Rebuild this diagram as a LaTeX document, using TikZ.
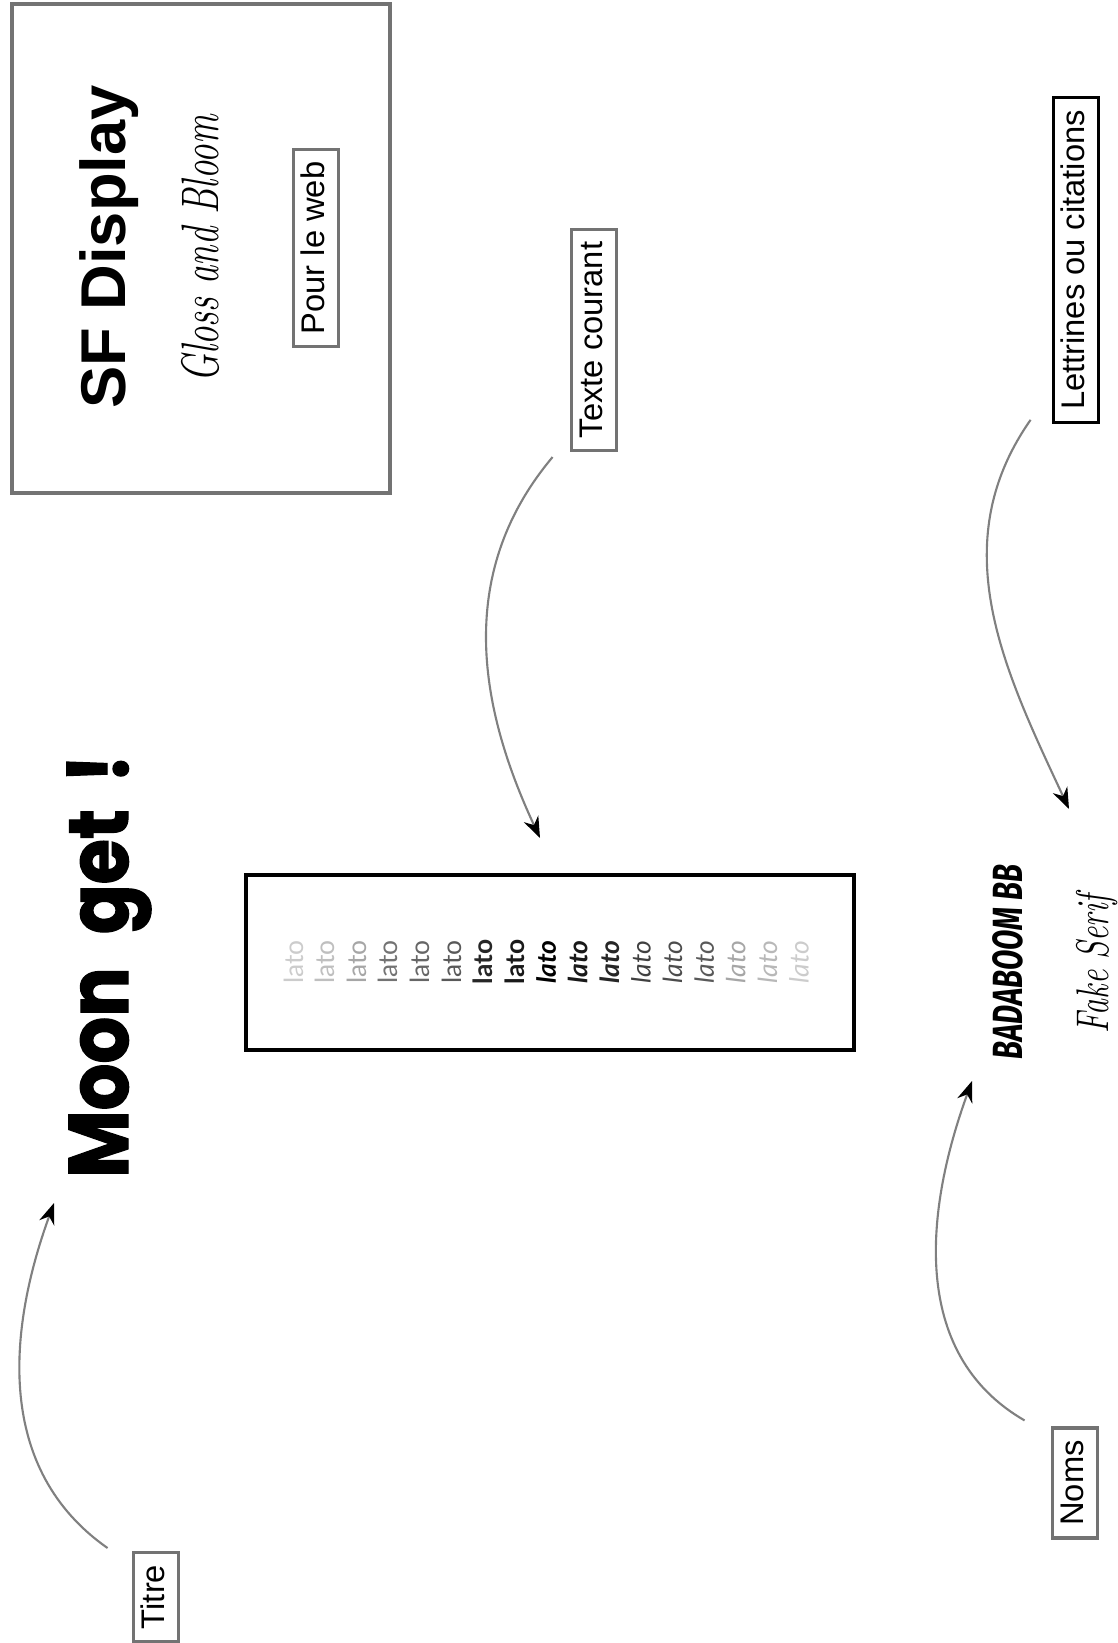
\documentclass[tikz,border=0pt]{standalone}
\usepackage{fontspec}
\setmainfont{Liberation Sans}
\newfontfamily\moonfont{Poppins}[FakeStretch=0.87,BoldFeatures={FakeBold=1.5}]
\newfontfamily\latofont{Lato}
\newfontfamily\badafont{Fira Sans}[FakeStretch=0.7]
\newfontfamily\glossfont{Latin Modern Roman}[FakeStretch=0.7]
\usetikzlibrary{arrows.meta}

\begin{document}
\begin{tikzpicture}[x=0.01cm,y=-0.01cm,
  label box/.style={draw=black!55,line width=0.9pt,rotate=90,inner xsep=3.5pt,inner ysep=2pt,
    text height=7pt,text depth=2pt,font=\fontsize{9.3}{11}\selectfont},
  side text/.style={rotate=90,anchor=base,inner sep=0pt},
  hint/.style={draw=black!50,line width=0.6pt,-{Stealth[length=6pt,width=4.5pt,color=black]}}]
\fill[white] (0,0) rectangle (1117,1643);
\useasboundingbox (0,0) rectangle (1117,1643);

\draw[black!55,line width=0.9pt] (12,4) rectangle (390,493);
\node[side text,font=\fontsize{18}{20}\selectfont\bfseries] (sfdisplay) at (125,247) {SF Display};
\node[side text,font=\glossfont\itshape\fontsize{15}{17}\selectfont] (gloss) at (218,249) {Gloss and Bloom};
\node[label box] (web) at (316,248) {Pour le web};

\node[side text,font=\moonfont\bfseries\fontsize{24}{26}\selectfont] (moon) at (128,966) {Moon\hspace{5pt} get\hspace{3pt} !};

\node[draw,line width=1pt,minimum width=6.08cm,minimum height=1.75cm] (latobox) at (550,962.5) {};
\foreach \c/\f [count=\i from 0] in {20/\upshape,25/\upshape,35/\upshape,55/\upshape,60/\upshape,65/\upshape,
  85/\bfseries,90/\bfseries,100/\bfseries\itshape,90/\bfseries\itshape,85/\bfseries\itshape,
  75/\itshape,70/\itshape,65/\itshape,35/\itshape,28/\itshape,20/\itshape}
  \node[side text,font=\latofont\fontsize{7.5}{9}\selectfont\f,text=black!\c] (lato\i) at ({303+31.6*\i},962) {lato};

\node[label box] (texte) at (594,340) {Texte courant};
\node[label box,draw=black] (lettrines) at (1076,260) {Lettrines ou citations};
\node[side text,font=\badafont\bfseries\itshape\fontsize{12}{14}\selectfont] (badaboom) at (1022,962) {BADABOOM BB};
\node[side text,font=\glossfont\itshape\fontsize{13}{15}\selectfont] (fake) at (1108,964) {Fake Serif};
\node[label box] (noms) at (1075,1483) {Noms};
\node[label box] (titre) at (156,1597) {Titre};

\coordinate (titretip) at (54,1203);
\coordinate (textetip) at (540,838);
\coordinate (lettrinestip) at (1069,809);
\coordinate (nomstip) at (972,1081);

\draw[hint] ([shift={(-24,-3)}]titre.north east) to[out=145,in=250] (titretip);
\draw[hint] ([shift={(-17,5)}]texte.north west) to[out=230,in=115] (textetip);
\draw[hint] ([shift={(-21,-4)}]lettrines.north west) to[out=235,in=115] (lettrinestip);
\draw[hint] ([shift={(-26,-6)}]noms.north east) to[out=150,in=250] (nomstip);
\end{tikzpicture}
\end{document}
